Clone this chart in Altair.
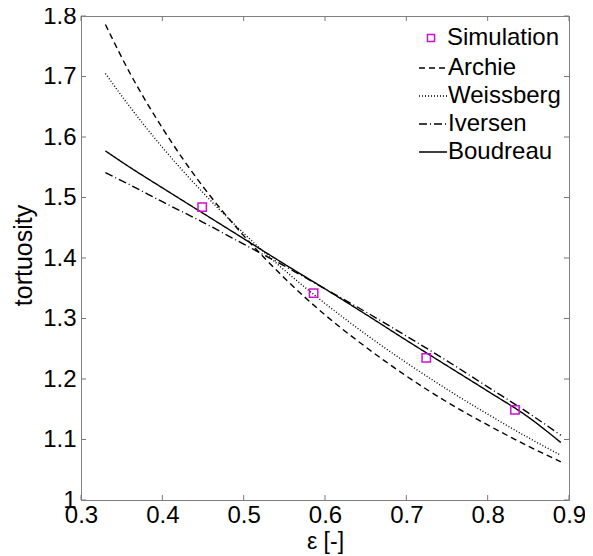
import altair as alt
import pandas as pd

# ---- data ----
eps = [0.33, 0.36, 0.40, 0.45, 0.50, 0.55, 0.60, 0.65, 0.70, 0.75, 0.80, 0.85, 0.89]
archie = [1.786, 1.706, 1.615, 1.518, 1.437, 1.367, 1.306, 1.253, 1.205, 1.162, 1.124, 1.089, 1.063]
weissberg = [1.705, 1.650, 1.583, 1.508, 1.441, 1.380, 1.325, 1.274, 1.227, 1.183, 1.142, 1.103, 1.074]
iversen = [1.541, 1.521, 1.493, 1.459, 1.423, 1.387, 1.349, 1.311, 1.271, 1.230, 1.187, 1.144, 1.107]
boudreau = [1.577, 1.550, 1.516, 1.474, 1.432, 1.390, 1.349, 1.307, 1.264, 1.222, 1.180, 1.137, 1.095]

sim_eps = [0.449, 0.586, 0.7245, 0.8336]
sim_tau = [1.484, 1.342, 1.235, 1.149]

models = ["Archie", "Weissberg", "Iversen", "Boudreau"]
dashes = [[6, 4], [1, 2], [8, 3, 1, 3], [1, 0]]
x_ticks = [0.3, 0.4, 0.5, 0.6, 0.7, 0.8, 0.9]
y_ticks = [1.0, 1.1, 1.2, 1.3, 1.4, 1.5, 1.6, 1.7, 1.8]

FONT = "Liberation Sans"
W, H = 488, 484

rows = []
for name, vals in zip(models, [archie, weissberg, iversen, boudreau]):
    for e, t in zip(eps, vals):
        rows.append({"eps": e, "tau": t, "model": name})
lines_df = pd.DataFrame(rows)
sim_df = pd.DataFrame({"eps": sim_eps, "tau": sim_tau, "lab": ["Simulation"] * len(sim_eps)})
xt_df = pd.DataFrame({"v": x_ticks})
yt_df = pd.DataFrame({"v": y_ticks})

xs = alt.Scale(domain=[0.3, 0.9], nice=False, zero=False)
ys = alt.Scale(domain=[1.0, 1.8], nice=False, zero=False)

xaxis = alt.Axis(values=x_ticks, format=".1~f", labelFontSize=24, labelFont=FONT,
                 labelColor="black", ticks=False, tickSize=0, domain=False, grid=False,
                 labelFlush=False, labelOverlap=False,
                 labelPadding=3, titleFont=FONT, titleFontSize=23, titleFontWeight="normal",
                 titleColor="black", titleY=48, titleBaseline="alphabetic")
yaxis = alt.Axis(values=y_ticks, format=".1~f", labelFontSize=24, labelFont=FONT,
                 labelColor="black", ticks=False, tickSize=0, domain=False, grid=False,
                 labelFlush=False, labelOverlap=False,
                 labelPadding=5, titleFont=FONT, titleFontSize=25, titleFontWeight="normal",
                 titleColor="black", titleX=-50, titleY=H / 2 - 3, titleAngle=-90,
                 titleAlign="center", titleBaseline="alphabetic")

lines = alt.Chart(lines_df).mark_line(color="black", strokeWidth=1.4, interpolate="monotone").encode(
    x=alt.X("eps:Q", scale=xs, axis=xaxis, title="ε [-]"),
    y=alt.Y("tau:Q", scale=ys, axis=yaxis, title="tortuosity"),
    strokeDash=alt.StrokeDash(
        "model:N",
        scale=alt.Scale(domain=models, range=dashes),
        legend=alt.Legend(orient="none", legendX=337, legendY=37, title=None,
                          symbolType="stroke", symbolSize=784, symbolStrokeWidth=1.3,
                          symbolStrokeColor="black", labelFontSize=24, labelFont=FONT,
                          labelColor="black", labelOffset=0, rowPadding=1, padding=0),
    ),
)

points = alt.Chart(sim_df).mark_point(shape="square", filled=False, color="#d010d0",
                                      size=70, strokeWidth=1.5, opacity=1).encode(
    x=alt.X("eps:Q", scale=xs),
    y=alt.Y("tau:Q", scale=ys),
    shape=alt.Shape(
        "lab:N",
        scale=alt.Scale(domain=["Simulation"], range=["square"]),
        legend=alt.Legend(orient="none", legendX=338, legendY=10, title=None,
                          symbolSize=50, symbolStrokeColor="#d010d0", symbolStrokeWidth=1.5,
                          symbolFillColor="transparent", symbolOpacity=1, labelFontSize=24,
                          labelFont=FONT, labelColor="black", labelOffset=4, padding=0),
    ),
)

tick_col = "#777777"
xb = alt.Chart(xt_df).mark_rule(color=tick_col, strokeWidth=1).encode(
    x=alt.X("v:Q", scale=xs), y=alt.value(H), y2=alt.value(H - 5))
xtop = alt.Chart(xt_df).mark_rule(color=tick_col, strokeWidth=1).encode(
    x=alt.X("v:Q", scale=xs), y=alt.value(0), y2=alt.value(5))
yl = alt.Chart(yt_df).mark_rule(color=tick_col, strokeWidth=1).encode(
    y=alt.Y("v:Q", scale=ys), x=alt.value(0), x2=alt.value(5))
yr = alt.Chart(yt_df).mark_rule(color=tick_col, strokeWidth=1).encode(
    y=alt.Y("v:Q", scale=ys), x=alt.value(W), x2=alt.value(W - 5))

chart = alt.layer(xb, xtop, yl, yr, lines, points).properties(
    width=W, height=H,
    autosize=alt.AutoSizeParams(type="none"),
    padding={"left": 73, "top": 8, "right": 16, "bottom": 56},
    background="white",
).configure_view(stroke="#808080", strokeWidth=1)

chart.save("out.html", embed_options={"renderer": "svg", "actions": False})
